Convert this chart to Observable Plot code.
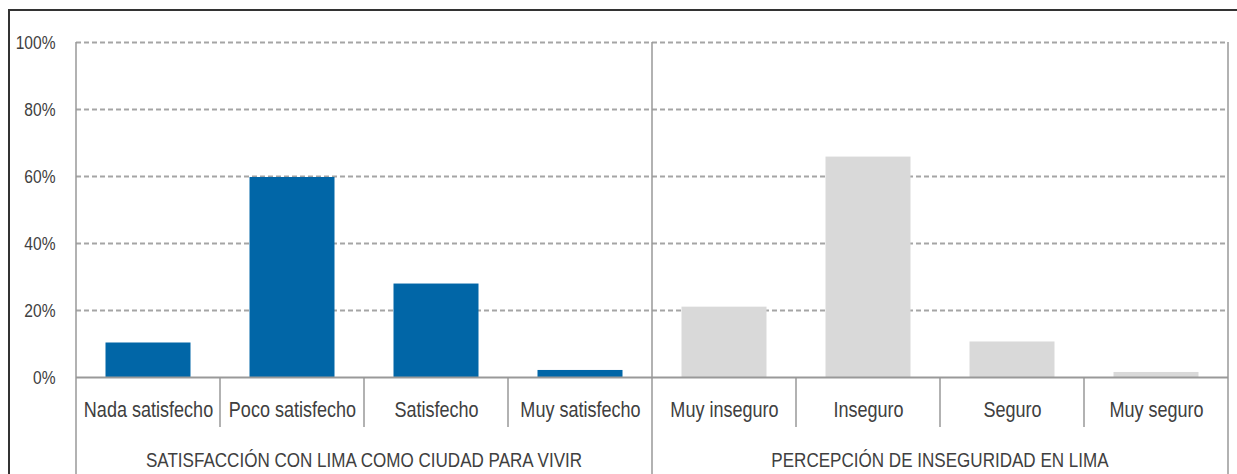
<!DOCTYPE html>
<html><head><meta charset="utf-8">
<script src="https://cdn.jsdelivr.net/npm/d3@7"></script>
<script src="https://cdn.jsdelivr.net/npm/@observablehq/plot@0.6"></script>
<style>
body{margin:0;background:#fff;}
#wrap{position:relative;width:1237px;height:474px;overflow:hidden;}
#frame{position:absolute;left:8px;top:9px;right:-10px;bottom:-10px;border-top:2px solid #333;border-left:2px solid #333;pointer-events:none;}
</style></head><body><div id="wrap"><div id="frame"></div></div>
<script>
const groups = ["SATISFACCIÓN CON LIMA COMO CIUDAD PARA VIVIR", "PERCEPCIÓN DE INSEGURIDAD EN LIMA"];
const satisfactionCategories = ["Nada satisfecho", "Poco satisfecho", "Satisfecho", "Muy satisfecho"];
const satisfactionValues = [0.103, 0.597, 0.279, 0.021];
const insecurityCategories = ["Muy inseguro", "Inseguro", "Seguro", "Muy seguro"];
const insecurityValues = [0.210, 0.658, 0.106, 0.015];
const yTicks = [0, 0.2, 0.4, 0.6, 0.8, 1];
const groupColors = ["#0166a7", "#d9d9d9"];

const data = [
  ...satisfactionCategories.map((c, i) => ({group: groups[0], category: c, value: satisfactionValues[i]})),
  ...insecurityCategories.map((c, i) => ({group: groups[1], category: c, value: insecurityValues[i]}))
];
const categories = data.map(d => d.category);
const font = "'Liberation Sans', Arial, sans-serif";
const narrow = 0.82; // Arial Narrow is a horizontally condensed Arial

function structure(index, scales, values, dimensions) {
  const x = scales.x, y = scales.y;
  const bw = x.bandwidth();
  const top = y(1), base = y(0), bottom = dimensions.height;
  const g = d3.create("svg:g");
  groups.forEach((gr, gi) => {
    const cats = data.filter(d => d.group === gr).map(d => d.category);
    const x0 = x(cats[0]), x1 = x(cats[cats.length - 1]) + bw;
    if (gi === 0) g.append("line").attr("x1", x0).attr("x2", x0).attr("y1", top).attr("y2", bottom)
      .attr("stroke", "#999").attr("stroke-width", 1.5);
    g.append("line").attr("x1", x1).attr("x2", x1).attr("y1", top).attr("y2", bottom)
      .attr("stroke", "#999").attr("stroke-width", 1.5);
    cats.slice(1).forEach(c => {
      const xs = x(c);
      g.append("line").attr("x1", xs).attr("x2", xs).attr("y1", base).attr("y2", base + 50)
        .attr("stroke", "#999").attr("stroke-width", 1.5);
    });
    g.append("text").attr("x", (x0 + x1) / 2).attr("y", base + 83).attr("dy", "0.35em")
      .attr("text-anchor", "middle").attr("font-size", 20.8).attr("fill", "#404040")
      .attr("font-family", font).text(gr);
  });
  return g.node();
}

const chart = Plot.plot({
  width: 1237,
  height: 474,
  marginLeft: 76,
  marginRight: 9,
  marginTop: 42,
  marginBottom: 97,
  style: {fontFamily: font, color: "#404040", background: "transparent"},
  x: {domain: categories, padding: 0, label: null},
  y: {domain: [0, 1], label: null},
  color: {domain: groups, range: groupColors},
  marks: [
    Plot.gridY(yTicks.slice(1), {stroke: "#a5a5a5", strokeOpacity: 1, strokeWidth: 1.8, strokeDasharray: "5,3"}),
    Plot.barY(data, {x: "category", y: "value", fill: "group", insetLeft: 29.5, insetRight: 29.5}),
    Plot.ruleY([0], {stroke: "#999", strokeWidth: 2}),
    Plot.axisY(yTicks, {tickSize: 0, tickPadding: 21, fontSize: 19, tickFormat: d => `${Math.round(d * 100)}%`, label: null}),
    Plot.axisX({tickSize: 0, tickPadding: 24, fontSize: 22, label: null}),
    structure
  ]
});
// condense every text horizontally around its own anchor point
chart.querySelectorAll("text").forEach(t => {
  const tx = +(t.getAttribute("x") || 0);
  const prev = t.getAttribute("transform") || "";
  t.setAttribute("transform", `${prev} translate(${tx},0) scale(${narrow},1) translate(${-tx},0)`.trim());
});
const wrap = document.getElementById("wrap");
chart.style.position = "absolute";
chart.style.left = "0";
chart.style.top = "0";
wrap.insertBefore(chart, wrap.firstChild);
</script>
</body></html>
